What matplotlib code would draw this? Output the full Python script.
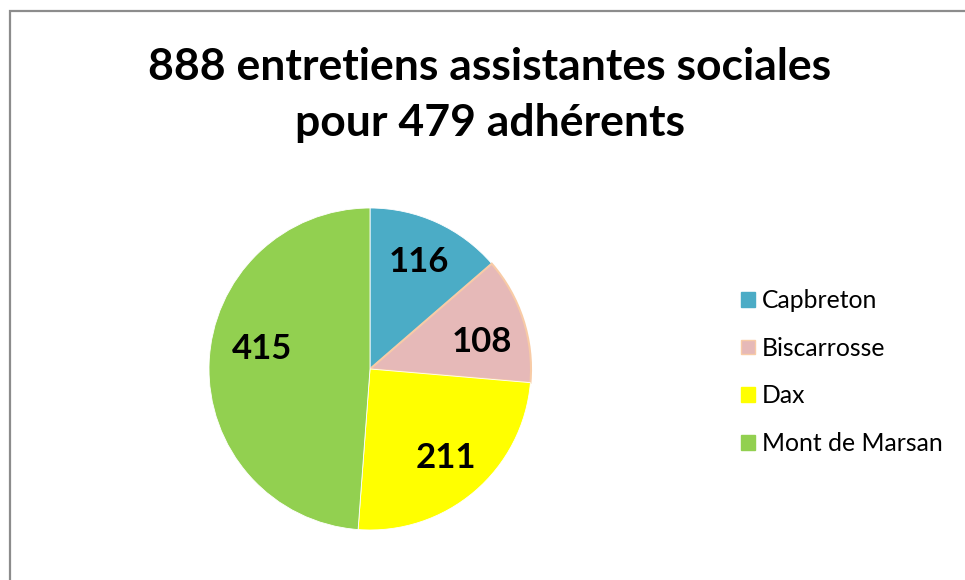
import matplotlib.pyplot as plt
from matplotlib.patches import Rectangle, Patch

# Entretiens par permanence
sites = ["Capbreton", "Biscarrosse", "Dax", "Mont de Marsan"]
entretiens = [116, 108, 211, 415]
colors = ["#4BACC6", "#E6B9B8", "#FFFF00", "#92D050"]

title = "888 entretiens assistantes sociales\npour 479 adhérents"

W, H = 965, 580
fig = plt.figure(figsize=(W / 100, H / 100), dpi=100)
font = "Lato"

# chart frame (left and top edges show, the rest runs off the figure)
fig.patches.append(Rectangle((10 / W, -0.1), 1.2, 1 - 11 / H + 0.1,
                             transform=fig.transFigure, fill=False,
                             edgecolor="#8c8c8c", linewidth=1.6))

fig.text(490 / W, 1 - 95 / H, title, ha="center", va="center",
         fontsize=32, fontweight="bold", family=font, linespacing=1.5)

cx, cy, r = 370, 369, 161
ax = fig.add_axes([(cx - r) / W, (H - cy - r) / H, 2 * r / W, 2 * r / H])
wedges, texts, autotexts = ax.pie(
    entretiens, colors=colors, startangle=90, counterclock=False,
    radius=1, autopct=lambda p: f"{round(p * sum(entretiens) / 100):d}",
    pctdistance=0.73, wedgeprops=dict(edgecolor="white", linewidth=0.6),
    textprops=dict(fontsize=25, fontweight="bold", family=font))
wedges[1].set_edgecolor("#F8CBA6")
wedges[1].set_linewidth(1.5)
# small label nudges
x, y = autotexts[1].get_position()
autotexts[1].set_position((x, y - 0.06))
x, y = autotexts[3].get_position()
autotexts[3].set_position((x + 0.06, y + 0.10))
ax.set_xlim(-1, 1)
ax.set_ylim(-1, 1)
ax.set_aspect("equal")
ax.axis("off")

handles = [Patch(facecolor=c, edgecolor=("#F8CBA6" if i == 1 else c))
           for i, c in enumerate(colors)]
fig.legend(handles, sites, loc="upper left",
           bbox_to_anchor=(741 / W, 1 - 289 / H), frameon=False,
           prop=dict(family=font, size=17.8), handlelength=0.55,
           handleheight=0.55, handletextpad=0.3, labelspacing=1.0,
           borderaxespad=0, borderpad=0)

fig.savefig("out.png", dpi=100)
